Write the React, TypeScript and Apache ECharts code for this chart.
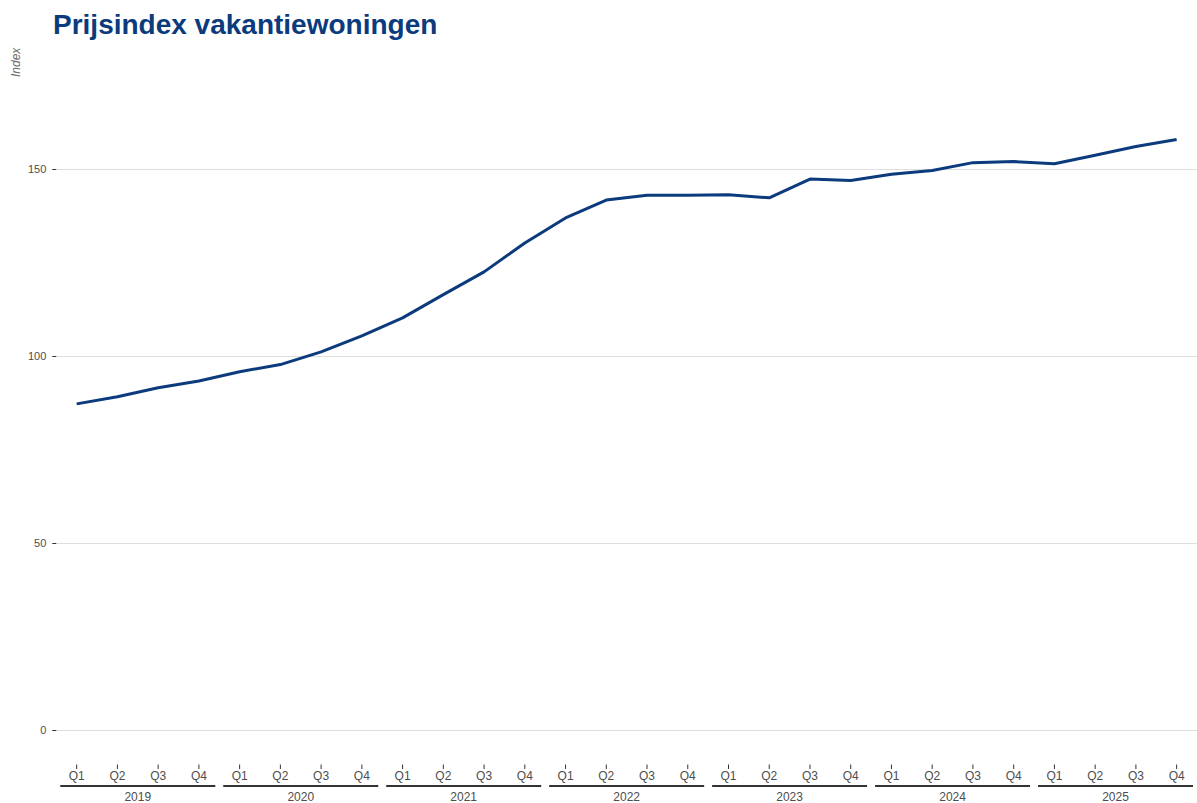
import React, { useEffect, useRef } from "react";
import * as echarts from "echarts";

const years = ["2019", "2020", "2021", "2022", "2023", "2024", "2025"];
const quarters = ["Q1", "Q2", "Q3", "Q4"];
const categories = years.flatMap((y) => quarters.map((q) => `${y} ${q}`));
const values = [
  87.2, 89.1, 91.5, 93.3,
  95.8, 97.7, 101.1, 105.4,
  110.2, 116.4, 122.5, 130.2,
  136.9, 141.7, 143.0, 143.0,
  143.1, 142.3, 147.3, 146.9,
  148.6, 149.6, 151.7, 152.0,
  151.4, 153.7, 156.0, 157.9,
];
const yTicks = { min: 0, max: 150, interval: 50 };

const TITLE = "Prijsindex vakantiewoningen";
const Y_NAME = "Index";
const BLUE = "#0b3b7c";
const FONT = "'Liberation Sans', Arial, Helvetica, sans-serif";
const GREY_TEXT = "#4d4d4d";

export default function App() {
  const ref = useRef<HTMLDivElement>(null);
  useEffect(() => {
    if (!ref.current) return;
    const chart = echarts.init(ref.current, null, { renderer: "svg" });
    chart.setOption({
      animation: false,
      backgroundColor: "#ffffff",
      textStyle: { fontFamily: FONT },
      title: {
        text: TITLE,
        left: 48,
        top: 5,
        textStyle: { fontSize: 28, fontWeight: "bold", color: BLUE, fontFamily: FONT },
      },
      graphic: [
        {
          type: "text",
          x: 16,
          y: 77,
          rotation: Math.PI / 2,
          style: {
            text: Y_NAME,
            fontSize: 12,
            fontStyle: "italic",
            fontFamily: FONT,
            fill: "#666666",
            align: "left",
            verticalAlign: "middle",
          },
        },
      ],
      grid: { left: 56.3, right: -2.8, top: 169, bottom: 71, containLabel: false },
      xAxis: [
        {
          type: "category",
          data: categories,
          boundaryGap: true,
          position: "bottom",
          axisLine: { show: false },
          axisTick: { show: false },
          axisLabel: {
            interval: 0,
            margin: 34.5,
            formatter: (v: string) => `{t|}\n{q|${v.split(" ")[1]}}`,
            rich: {
              t: { width: 1, height: 4.5, backgroundColor: "#333333", align: "center" },
              q: { fontSize: 12, color: GREY_TEXT, fontFamily: FONT, lineHeight: 13, align: "center" },
            },
          },
          splitLine: { show: false },
        },
        {
          type: "category",
          data: years,
          boundaryGap: true,
          position: "bottom",
          offset: 46,
          axisLine: { show: false },
          axisTick: { show: false },
          splitLine: { show: false },
          axisLabel: {
            interval: 0,
            margin: 9,
            formatter: (v: string) => `{l|}\n{y|${v}}`,
            rich: {
              l: { width: 155, height: 2, backgroundColor: "#333333" },
              y: { fontSize: 12, color: GREY_TEXT, fontFamily: FONT, lineHeight: 20, align: "center" },
            },
          },
        },
      ],
      yAxis: {
        type: "value",
        min: yTicks.min,
        max: yTicks.max,
        interval: yTicks.interval,
        axisLine: { show: false },
        axisTick: { show: true, length: 4, lineStyle: { color: "#333333", width: 1 } },
        axisLabel: { fontSize: 11, color: GREY_TEXT, margin: 10, fontFamily: FONT },
        splitLine: { show: true, lineStyle: { color: "#dedede", width: 1 } },
      },
      series: [
        {
          type: "line",
          data: values,
          xAxisIndex: 0,
          yAxisIndex: 0,
          symbol: "none",
          clip: false,
          lineStyle: { color: BLUE, width: 3, join: "round" },
        },
      ],
    });
    return () => chart.dispose();
  }, []);
  return (
    <div
      ref={ref}
      style={{ position: "fixed", left: 0, top: 0, width: 1197, height: 803, background: "#fff" }}
    />
  );
}
